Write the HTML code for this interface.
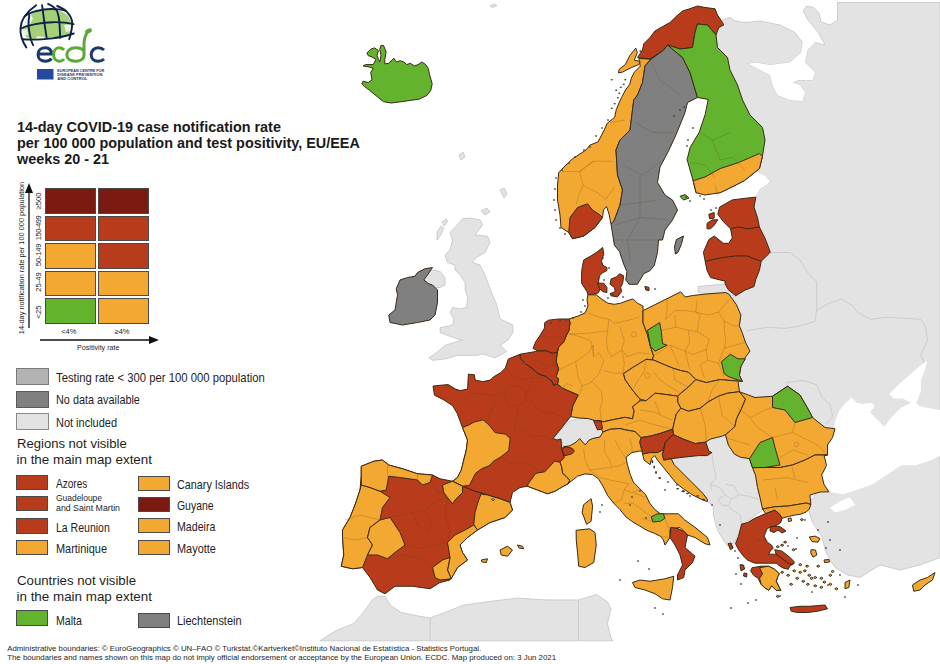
<!DOCTYPE html>
<html><head><meta charset="utf-8">
<style>
html,body{margin:0;padding:0;background:#fff;}
body{width:940px;height:664px;position:relative;overflow:hidden;font-family:"Liberation Sans",sans-serif;color:#1e1e1e;}
svg{position:absolute;left:0;top:0;}
.t{position:absolute;white-space:nowrap;line-height:1;transform-origin:0 50%;}
.b{position:absolute;box-sizing:border-box;border:1px solid #4a4a4a;}
.title{font-weight:bold;font-size:14.4px;color:#1a1a1a;}
.lg{font-size:12.2px;}
.hd{font-size:13.4px;}
</style></head><body>
<svg width="940" height="664" viewBox="0 0 940 664">
<g fill="#e3e3e3" stroke="#c4c4c4" stroke-width="0.8" stroke-linejoin="round">
<path d="M722.5,20 L730,17.5 L735,21 L745,22.5 L760,21 L780,25 L795,32.5 L802.5,42.5 L801.25,52.5 L790,62.5 L770,65 L755,62.5 L748.75,63.75 L760,70 L770,75 L772.5,85 L777.5,95 L790,100 L802.5,101 L805,92.5 L800,85 L792.5,82.5 L797.5,80 L812.5,80 L815,72.5 L805,62.5 L807.5,50 L815,42.5 L825,45 L818,32 L808,20 L803,11 L806,6.5 L813,7 L819,13 L821,22 L830,25 L837.5,20 L837.5,2.5 L940,2.5 L940,557.5 L920,565 L900,570 L880,565 L860,577.5 L847.5,575 L835,567.5 L830,560 L825,550 L822.5,537.5 L817.5,530 L812.5,522.5 L810,515 L807.5,506 L820,487.5 L825,480 L827.5,455 L790,440 L742.5,395 L740,392.5 L735,380 L735,325 L728,300 L735.9,295.7 L714.2,295.7 L698,292.1 L698,286.6 L725.1,283.9 L725.1,281.2 L740,260 L756,196 L760,189 L767.5,184 L770,180 L762,176 L757.5,170 L740,150 L720,100 L705,50Z"/>
<path d="M462.5,218.75 L470,218 L480,220 L482.5,225 L478,231 L475,235 L487.5,236.25 L490,242.5 L485,252.5 L476.25,257.5 L472.5,262.5 L480,265 L485,275 L489,286 L493,296 L496.5,304 L498.5,312 L500,319 L505.4,321.4 L512.9,325.1 L512.9,332.7 L507.9,340.2 L500.3,345.2 L506.6,351.5 L495.3,357.8 L482.8,354 L476.5,355.3 L457.7,355.3 L445.1,359 L432.6,360.3 L428.8,357.8 L436.3,352.8 L445.1,345.2 L453.9,342.7 L462.7,340.2 L457.7,339 L450.1,336.4 L440.1,332.7 L440.1,327.7 L452.6,325.1 L453.9,318.9 L450.1,312.6 L452.6,307.6 L460.2,308.8 L466.4,307.6 L467.7,297.5 L465.2,290 L465,282.5 L460,275 L455,270 L455,265 L447.5,262.5 L445,255 L450,250 L452.5,240 L450,232.5 L455,227.5Z"/>
<path d="M437,232 L441,226 L444,228 L440,236 L437,240Z"/>
<path d="M442,222 L446,219 L448,221 L444,226Z"/>
<path d="M481,211 L487,208 L490,212 L485,215Z"/>
<path d="M500,190 L504,188 L507,194 L504,198Z"/>
<path d="M459,155 L463,152 L465,157 L461,160Z"/>
<path d="M425,275 L432.5,270 L440,271.25 L445,277.5 L445,285 L440,287.5 L435,287.5 L428.75,283.75 L423.75,280Z"/>
<path d="M553,438.5 L560,430 L570,421.25 L579.4,418 L588.4,418.6 L594.8,420.5 L597.5,422 L600,427.5 L603,432 L600,437 L592.4,438.6 L588.8,440.4 L585.2,444.9 L579.7,438.6 L576.1,442.2 L569.8,445.8 L563.5,446.7 L561,439 L557,440Z"/>
<path d="M671.2,458.7 L683.2,457.2 L698.3,455.6 L707.3,455.6 L711.8,452.6 L708.8,451.1 L705.8,442.1 L710.3,439.1 L716.3,437.6 L722.4,436.1 L725.4,434.6 L728.4,445.1 L734.4,454.1 L740.4,457.2 L749.5,458.7 L752.5,467.7 L755.5,475.2 L757.5,487.5 L760,497.5 L762.5,510 L742.5,525 L737.5,535 L735,542.5 L730,545 L727.5,546 L722,538 L717.5,530 L713.3,515 L713.3,505.3 L707.3,501.6 L707.3,499.3 L702.8,493.3 L695.3,485.8 L687.7,478.2 L680.2,470.7 L674.2,464.7Z"/>
<path d="M319.9,640.8 L336.2,630.6 L354.2,623.4 L363.3,612.5 L372.3,599.9 L377.8,596.3 L385,596.3 L390.4,605.3 L401.3,612.5 L419.3,616.2 L430.2,618 L444.7,612.5 L462.7,605.3 L488.1,601.7 L517,598.1 L545.9,599.9 L578.5,599.9 L596.6,594.5 L607.4,601.7 L611,608.9 L607.4,623.4 L611,637.9 L612.8,640.8Z"/>
<path d="M490,6 L494,4 L497,5.5 L493,7.5Z"/>
</g>
<g fill="none" stroke="#c2c2c2" stroke-width="0.7">
<path d="M746.8,330.7 L767.1,327.3 L785.2,328.4 L798.8,326.2 L814.6,321.6 L816.8,310.3 L828.1,303.6 L841.7,299 L853,305.8 L857.5,312.6 L871.1,319.4 L886.9,317.1 L902.7,318.2 L920.8,319.4 L925.3,326.2 L927.5,339.7 L920.8,355.5 L925.3,364.6 L927.6,360"/>
<path d="M760,252.5 L772.5,252.5 L790,252.5 L800,260 L807.5,272.5 L816.8,282 L816.8,299 L816.8,310.3"/>
<path d="M785.2,382.7 L803.3,380.4 L816.8,384.9 L821.4,396.2 L830.4,405.3 L832.7,416.6 L826,424"/>
<path d="M711.8,452.6 L713.3,464.7 L716.3,478.2 L710.3,484.2 L711.8,490.3"/>
<path d="M710.3,484.2 L719.4,487.3 L725.4,494.8 L717.8,499.3"/>
<path d="M725.4,484.2 L734.4,485.8 L738.9,494.8 L731.4,499.3 L725.4,494.8"/>
<path d="M717.8,499.3 L722.4,505.3 L728.4,505.3 L731.4,499.3"/>
<path d="M738.9,494.8 L749.5,496.3 L758.5,499.3"/>
<path d="M728.4,506.8 L732.5,510 L740,515 L741.6,524.1"/>
<path d="M430.2,618 L430,640.8"/>
<path d="M578.5,599.9 L578.5,640.8"/>
</g>
<g fill="#fff" stroke="none">
<path d="M748.75,63.75 L755,62.5 L770,65 L790,62.5 L801.25,52.5 L802.5,42.5 L808,45 L815,42.5 L807.5,50 L805,62.5 L815,72.5 L812.5,80 L797.5,80 L792.5,82.5 L800,85 L805,92.5 L802.5,101 L790,100 L777.5,95 L772.5,85 L770,75 L760,70Z"/>
<path d="M834.9,421.9 L839.8,409.9 L845.8,402.7 L851.8,397.8 L856.6,402.7 L862.7,403.9 L872.3,402.7 L874.7,406.3 L869.9,412.3 L877.1,419.5 L884.3,426.7 L891.6,417.1 L901.2,407.5 L910.8,402.7 L915.7,405.1 L925.3,407.5 L940,409.9 L940,455.7 L930.1,460.5 L915.7,465.3 L901.2,465.3 L886.7,474.9 L872.3,484.6 L857.8,489.4 L843.4,494.2 L828.9,491.8 L824.1,484.6 L821.7,474.9 L826.5,465.3 L824.1,455.7 L826.5,446 L833.7,434Z"/>
<path d="M889.2,394 L898.2,384.9 L916.3,369.1 L927.6,360 L925.3,369.1 L920.8,380.4 L920.8,391.7 L916.3,403 L911.8,403 L902.7,398.5 L893.7,398.5Z"/>
<path d="M911.8,403 L916.3,403 L920.8,407.5 L915,406Z"/>
<path d="M830,507.5 L842.5,500 L850,497.5 L855,505 L845,510 L835,512.5Z"/>
<path d="M745,180 L757.5,172 L765,176 L770,181 L767.5,184 L760,189 L756,196 L740,199 L720,205Z"/>
</g>
<g stroke="#3a2a14" stroke-width="1" stroke-linejoin="round">
<path fill="#64b32f" d="M366.9,53 L370.7,49.2 L374.6,47.9 L378.4,50.5 L377.1,55.6 L378.4,59.4 L379.7,62 L381,55.6 L379.7,49.2 L381,45.4 L383.5,45.4 L386.1,51.8 L384.8,59.4 L384.8,63.9 L388.7,63.3 L393.8,58.2 L396.3,62 L400.2,60.7 L404,62 L406.6,64.6 L410.4,63.3 L414.3,65.9 L418.1,64.6 L421.9,62 L425.8,64.6 L428.3,68.4 L429.6,74.8 L432.2,83.8 L430.9,90.2 L427.1,95.3 L419.4,99.1 L410.4,100.4 L401.5,101.7 L391.2,103 L383.5,101.7 L377.1,96.6 L369.4,90.2 L364.3,86.3 L361.8,83.8 L363,81.2 L368.2,82.5 L372,79.9 L370.7,72.3 L373.3,68.4 L369.4,67.1 L363,65.9 L365.6,64.6 L373.3,64.6 L375.9,59.4 L372,56.9 L368.2,55.6Z"/>
<path fill="#808080" d="M417.5,272.5 L425,268.75 L432.5,267.5 L427.5,275 L423.75,280 L428.75,283.75 L432.5,285 L437.5,290 L437.5,302.5 L435,315 L430,320 L417.5,322.5 L402.5,325 L390,322.5 L388.75,315 L395,310 L397.5,295 L396.25,288.75 L400,280 L407.5,277.5 L415,276.25Z"/>
<path fill="#f3a832" d="M638.8,58.6 L640.3,66.1 L634.3,72.2 L631.3,78.2 L629.8,84.2 L625.3,90.2 L622.3,96.2 L619.3,102.3 L616.2,109.8 L614.7,117.3 L607.2,123.3 L604.2,130 L598,142 L590,145 L586,150 L572.5,158.75 L565,166 L558.75,172.5 L557.5,185 L557.5,200 L560,215 L561,227.5 L568.75,232.5 L572.5,238.75 L583.75,236 L595,227.5 L602.5,217.5 L603.5,210 L606.5,206.5 L609,214 L611,224 L614,221 L620,205 L622.5,190 L617.5,175 L616,150 L620,140 L630,130 L633.75,100 L637.5,95 L642.5,82.5 L645,66 L650,60 L663.75,50 L650,59Z"/>
<path fill="#f3a832" d="M619.3,69.1 L625.3,64.6 L629.8,55.6 L635.8,48.1 L637.3,52.6 L634.3,60.1 L640.3,61.6 L638.8,64.6 L631.3,67.6 L622.3,72.2 L618.5,72.9Z"/>
<path fill="#b83c1b" d="M637.5,57.5 L642.5,50 L643.75,43.75 L650,37.5 L655,31 L661,27.5 L670,22.5 L675,17.5 L682.5,11 L689,9 L697.5,6 L705,7.5 L715,8.75 L717.5,15 L722.5,22.5 L723.75,25 L718.75,27.5 L716,35 L707.5,25 L697.5,24 L695,32.5 L692.5,47.5 L680,49 L667.5,45 L663.75,50 L650,59Z"/>
<path fill="#b83c1b" d="M568.75,232.5 L570,217.5 L577.5,207.5 L587.5,203.75 L592.5,210 L600,215 L602.5,217.5 L595,227.5 L583.75,236 L572.5,238.75Z"/>
<path fill="#808080" d="M663.75,50 L667.5,45 L682.5,57.5 L690,72.5 L697.5,97.5 L687.5,102.5 L685,112.5 L680,125 L675,137 L668,152 L660,167 L657.5,182.5 L665,195 L672.5,200 L677.5,210 L672.5,220 L665,230 L662.5,240 L658.5,240 L657.5,252.6 L654.3,265.3 L650.1,270.6 L643.8,273.7 L637.4,284.3 L629,284.3 L625.8,280 L626.9,271.6 L623.7,264.2 L619.5,251.6 L614.3,245 L612.6,234 L611,224 L614,221 L620,205 L622.5,190 L617.5,175 L616,150 L620,140 L630,130 L633.75,100 L637.5,95 L642.5,82.5 L645,66 L650,60Z"/>
<path fill="#808080" d="M676.3,239.6 L683.5,236 L681.7,243.3 L678.1,252.3 L675.4,254.1 L674.5,246.9Z"/>
<path fill="#64b32f" d="M697.5,24 L707.5,25 L716,35 L717.5,47.5 L727.5,57.5 L730,70 L737.5,85 L742.5,100 L750,115 L762.5,127.5 L765,140 L762.4,156.6 L759.4,168.6 L744.3,180.7 L720.2,192.7 L696.1,192.7 L693.1,180.7 L687.1,159.6 L690.1,147.5 L699.1,132.5 L705.2,114.4 L708.2,99.4 L697.5,97.5 L690,72.5 L682.5,57.5 L667.5,45 L680,49 L692.5,47.5 L695,32.5Z"/>
<path fill="#f3a832" d="M693.1,180.7 L705,177 L720.2,168.6 L738.3,162.6 L759.4,153.6 L762.4,156.6 L759.4,168.6 L744.3,180.7 L730,188 L720.2,192.7 L705,195 L696.1,192.7Z"/>
<path fill="#64b32f" d="M679.9,196.3 L685.3,194.5 L688.9,198.1 L683.5,199.9Z"/>
<path fill="#b83c1b" d="M719.6,207.1 L732.3,199.9 L746.8,198.1 L755.8,197.2 L754,207.1 L757.6,218 L759.4,227 L764.8,237.8 L768.4,246.9 L770.2,252.3 L761.2,261.3 L759.4,270.4 L755.8,279.4 L754,286.6 L744.9,290.2 L735.9,295.7 L728.7,290.2 L725.1,283.9 L725.1,281.2 L710.6,277.6 L707,270.4 L705.2,261.3 L703.4,252.3 L708.8,239.6 L714.2,236 L723.3,243.3 L728.7,243.3 L732.3,237.8 L730.5,228.8 L723.3,221.6 L717.8,214.3Z"/>
<path fill="#b83c1b" d="M707,223.4 L712.4,219.8 L717.8,219.8 L714.2,225.2 L710.6,228.8 L707,228.8Z"/>
<path fill="#b83c1b" d="M708.8,214.3 L714.2,212.5 L714.2,218 L709.7,218.9Z"/>
<path fill="#b83c1b" d="M602.7,247.4 L603.7,253.7 L601.6,261.1 L602.7,265.3 L606.9,267.4 L606.9,270.6 L602.7,272.7 L599.5,275.8 L598.5,282.1 L600.6,287.4 L598.5,292.7 L596.3,293.7 L587.9,294.8 L586.9,291.6 L581.6,283.2 L581.6,271.6 L582.6,265.3 L583.7,260 L591.1,255.8 L596.3,252.6Z"/>
<path fill="#b83c1b" d="M597.4,283.2 L603.7,283.2 L606.9,287.4 L606.9,292.7 L602.7,291.6 L599.5,288.5Z"/>
<path fill="#b83c1b" d="M611.1,279 L616.4,276.9 L619.5,273.7 L623.7,275.8 L622.7,283.2 L620.6,287.4 L621.6,291.6 L617.4,296.9 L611.1,295.8 L610,293.7 L615.3,291.6 L614.3,287.4 L610,284.3Z"/>
<path fill="#b83c1b" d="M644.8,286.4 L649,287.4 L649,290.6 L645.9,290Z"/>
<path fill="#f3a832" d="M587.9,294.8 L596.3,294.8 L601.6,299 L607.9,303.2 L614.3,304.3 L620.6,303.2 L629,300.1 L633.2,299 L637.4,303.2 L643,306 L643,310.6 L643,322.6 L647.5,334.7 L650.5,346.7 L653.6,355.8 L652,360.3 L647,359.3 L632.6,367.6 L623.5,373.6 L625.1,379.6 L632.6,390.2 L640.1,399.2 L640.1,400.7 L632.6,406.7 L634.1,411.2 L632.6,418.8 L625.1,417.3 L610,420.3 L603.8,421.8 L598.7,420.5 L594.8,420.5 L588.4,418.6 L579.4,418 L570.5,416.7 L573,405.2 L578.2,395 L562.8,388.5 L557.4,384.2 L558.6,379.1 L556.1,376.5 L558.6,368.9 L556.1,361.2 L557.4,352.2 L558.6,347.1 L563.7,342 L566.3,335.6 L568.9,330.5 L570.1,322.8 L568.9,319 L578,316 L585,313 L588,306 L587,300Z"/>
<path fill="#f3a832" d="M643,310.6 L655.1,304.6 L667.1,298.6 L680.7,291.8 L685.2,297 L692.7,295.5 L706.2,294 L725.8,292.5 L728.8,294 L736.4,304.6 L740.9,315.1 L739.4,325.7 L742.4,333.2 L745.4,342.2 L749.9,351.2 L745.4,357.3 L740.9,366.3 L739.4,375.3 L742.4,381.4 L738,381.1 L719.9,379.6 L706.3,382.6 L695.8,379.6 L688.3,372.1 L680.8,370.6 L673.2,368.3 L664.2,364.6 L653.7,360.1 L647,359.3 L652,360.3 L653.6,355.8 L650.5,346.7 L647.5,334.7 L643,322.6Z"/>
<path fill="#64b32f" d="M647.5,330.2 L659.6,322.6 L661.1,330.2 L662.6,343.7 L667.1,345.2 L655.1,351.2 L650.5,346.7Z"/>
<path fill="#64b32f" d="M721.3,361.8 L730.3,354.3 L737.9,358.8 L745.4,358.8 L740.9,366.3 L739.4,375.3 L742.4,381.4 L728.8,376.8 L724.3,373.8Z"/>
<path fill="#f3a832" d="M623.5,373.6 L632.6,367.6 L646.1,359.3 L653.7,360.1 L664.2,364.6 L673.2,368.3 L680.8,370.6 L688.3,372.1 L695.8,379.6 L688.3,387.2 L680.8,393.2 L677.7,396.2 L667.2,394.7 L655.2,393.2 L646.1,400.7 L640.1,399.2 L632.6,390.2 L625.1,379.6Z"/>
<path fill="#f3a832" d="M695.8,379.6 L706.3,382.6 L719.9,379.6 L738,381.1 L739.5,391.7 L727.4,393.2 L718.4,396.2 L707.8,402.2 L700.3,408.2 L688.3,411.2 L680.8,408.2 L677.7,402.2 L677.7,396.2 L680.8,393.2 L688.3,387.2Z"/>
<path fill="#f3a832" d="M610,420.3 L625.1,417.3 L632.6,418.8 L634.1,411.2 L632.6,406.7 L640.1,400.7 L646.1,400.7 L655.2,393.2 L667.2,394.7 L677.7,396.2 L677.7,402.2 L680.8,408.2 L676.2,414.2 L674.7,420.3 L672.7,429.3 L659.1,433.8 L650.1,436.1 L641.1,437.6 L635,431.6 L626,430 L620,428.5 L610,429.3 L603,432 L600,427.5 L598.7,420.5 L603.8,421.8Z"/>
<path fill="#b83c1b" d="M593.5,420.5 L601.25,421.25 L602.5,428.75 L597.5,430Z"/>
<path fill="#f3a832" d="M688.3,411.2 L700.3,408.2 L707.8,402.2 L718.4,396.2 L727.4,393.2 L739.5,391.7 L745.5,399.2 L741,409.7 L736.5,418.8 L735,426.3 L728.9,432 L725.4,434.6 L722.4,436.1 L716.3,437.6 L710.3,439.1 L705.8,442.1 L695.3,443.6 L683.2,439.1 L673.4,434.6 L672.7,429.3 L674.7,420.3 L676.2,414.2 L680.8,408.2Z"/>
<path fill="#b83c1b" d="M641.1,437.6 L650.1,436.1 L659.1,433.8 L672.7,429.3 L673.4,434.6 L665.2,442.1 L663.7,449.6 L657.6,452.6 L650.1,452.6 L642.6,454.1 L641.1,448.1 L639.6,442.1Z"/>
<path fill="#b83c1b" d="M673.4,434.6 L683.2,439.1 L695.3,443.6 L705.8,442.1 L708.8,451.1 L711.8,452.6 L707.3,455.6 L698.3,455.6 L683.2,457.2 L671.2,458.7 L663.7,460.2 L662.2,454.1 L663.7,449.6 L665.2,442.1Z"/>
<path fill="#f3a832" d="M642.6,454.1 L650.1,452.6 L657.6,452.6 L663.7,449.6 L662.2,454.1 L663.7,460.2 L671.2,458.7 L674.2,464.7 L680.2,470.7 L687.7,478.2 L695.3,485.8 L702.8,493.3 L707.3,499.3 L707.3,501.6 L701.3,499.3 L692.3,494.8 L683.2,488.8 L675.7,482.7 L669.7,475.2 L663.7,467.7 L657.6,460.2 L654.6,455.6 L651.6,458.7 L650.1,464.7 L644.1,460.2Z"/>
<path fill="#f3a832" d="M739.5,391.7 L755,397.5 L772.5,396.25 L787.5,386.25 L800,395 L810,412.5 L812.5,417.5 L825,427.5 L835,428.75 L832.5,437.5 L827.5,445 L827.5,455 L815,455 L805,460 L792.5,465 L780,467.5 L765,467.5 L752.5,467.7 L749.5,458.7 L740.4,457.2 L734.4,454.1 L728.4,445.1 L725.4,434.6 L728.9,432 L735,426.3 L736.5,418.8 L741,409.7 L745.5,399.2Z"/>
<path fill="#64b32f" d="M772.5,396.25 L787.5,386.25 L800,395 L810,412.5 L812.5,417.5 L795,422.5 L785,410 L772.5,407.5Z"/>
<path fill="#64b32f" d="M749.5,458.7 L760,442.5 L772.5,437.5 L775,447.5 L780,465 L765,467.5 L752.5,467.7Z"/>
<path fill="#f3a832" d="M752.5,467.7 L765,467.5 L780,467.5 L792.5,465 L805,460 L815,455 L827.5,455 L824.1,455.7 L826.5,465.3 L821.7,474.9 L824.1,484.6 L828.9,491.8 L820,492 L810,495 L810.8,504.5 L806.3,503 L797.3,504.5 L788.2,506 L774.7,506.8 L762.6,509 L760,497.5 L757.5,487.5 L755.5,475.2Z"/>
<path fill="#b83c1b" d="M741.6,524.1 L747.6,522.6 L755.1,518.1 L765.6,513.6 L774.7,510 L779.2,513.6 L782.2,518.1 L780.7,522.6 L776.2,525.6 L770.2,527.1 L767.2,528.6 L764.1,536.1 L767.2,542.2 L771.7,545.2 L773.2,548.2 L770.2,551.2 L768.7,554.2 L774.7,554.2 L782.2,555.7 L789.7,560.2 L794.3,563.2 L789.7,566.2 L788.2,569.3 L782.2,567.7 L776.2,563.2 L768.7,563.2 L761.1,563.2 L755.1,563.2 L747.6,560.2 L743.1,555.7 L738.6,549.7 L735.5,543.7 L738.6,536.1 L740.1,530.1Z"/>
<path fill="#b83c1b" d="M770.2,527.1 L776.2,526 L780.7,527 L786,531 L782,533 L778,530 L774,532.5 L770,531Z"/>
<path fill="#f3a832" d="M762.6,509 L774.7,506.8 L788.2,506 L797.3,504.5 L806.3,503 L810.8,504.5 L809.3,509 L806.3,512 L800.3,514.3 L794.3,515.1 L788.2,516.6 L782.2,518.1 L779.2,513.6 L774.7,510 L765.6,513.6Z"/>
<path fill="#b83c1b" d="M774.7,549.7 L782.2,551.2 L789.7,557.2 L794.3,561.7 L792.7,564.7 L788.2,563.2 L782.2,558.7 L776.2,554.2Z"/>
<path fill="#b83c1b" d="M752.1,567.7 L761.1,566.2 L768.7,566.2 L774.7,569.3 L779.2,573.8 L777.7,576.8 L776.2,581.3 L780.7,590.3 L776.2,590.3 L771.7,585.8 L768.7,590.3 L764.1,587.3 L761.1,584.3 L758.1,578.3 L753.6,575.3 L750.6,570.8Z"/>
<path fill="#f3a832" d="M759.6,567.7 L768.7,566.2 L774.7,569.3 L779.2,573.8 L777.7,576.8 L776.2,581.3 L780.7,590.3 L776.2,590.3 L771.7,585.8 L768.7,590.3 L764.1,587.3 L761.1,584.3 L759.6,578.3 L762.6,573.8Z"/>
<path fill="#b83c1b" d="M728,543.7 L731,543 L733,548 L730.5,549.7Z"/>
<path fill="#b83c1b" d="M740,564.7 L743.5,565 L744.6,569 L741,570.8Z"/>
<path fill="#b83c1b" d="M744,573 L747,573.5 L746.5,577 L743.5,576Z"/>
<path fill="#b83c1b" d="M790,607.5 L800,606.25 L810,606.25 L825,605 L827.5,608.75 L817.5,611.25 L807.5,612.5 L797.5,612.5 L791.25,611.25Z"/>
<path fill="#f3a832" d="M788,518.5 L791,518 L791.5,521 L788.5,521.5Z"/>
<path fill="#f3a832" d="M809.3,537 L815,536.1 L819.9,538.5 L818,542.2 L812,541.5Z"/>
<path fill="#f3a832" d="M811,549.7 L815.5,550 L816.8,555 L813,557.2 L810.8,553Z"/>
<path fill="#f3a832" d="M824,560 L829,559.5 L829.5,562 L824.5,562.5Z"/>
<path fill="#f3a832" d="M845,582.5 L850,580 L848.75,587.5 L845,588.75Z"/>
<path fill="#f3a832" d="M912.5,585 L920,580 L927.5,577.5 L935,572.5 L932.5,580 L925,585 L920,590 L913.75,591.25Z"/>
<path fill="#f3a832" d="M792.7,570.8 L794.3,569.7 L795.9,570.8 L794.3,571.9Z"/>
<path fill="#f3a832" d="M798.7,572.3 L800.3,571.2 L801.9,572.3 L800.3,573.4Z"/>
<path fill="#f3a832" d="M803.2,570.8 L804.8,569.7 L806.4,570.8 L804.8,571.9Z"/>
<path fill="#f3a832" d="M807.7,575.3 L809.3,574.2 L810.9,575.3 L809.3,576.4Z"/>
<path fill="#f3a832" d="M810.0,578.3 L811.6,577.2 L813.2,578.3 L811.6,579.4Z"/>
<path fill="#f3a832" d="M813.7,577.5 L815.3,576.4 L816.9,577.5 L815.3,578.6Z"/>
<path fill="#f3a832" d="M795.7,578.3 L797.3,577.2 L798.9,578.3 L797.3,579.4Z"/>
<path fill="#f3a832" d="M801.7,581.3 L803.3,580.2 L804.9,581.3 L803.3,582.4Z"/>
<path fill="#f3a832" d="M806.2,584.3 L807.8,583.2 L809.4,584.3 L807.8,585.4Z"/>
<path fill="#f3a832" d="M813.7,585.8 L815.3,584.7 L816.9,585.8 L815.3,586.9Z"/>
<path fill="#f3a832" d="M819.8,578.3 L821.4,577.2 L823.0,578.3 L821.4,579.4Z"/>
<path fill="#f3a832" d="M822.8,582.1 L824.4,581.0 L826.0,582.1 L824.4,583.2Z"/>
<path fill="#f3a832" d="M828.8,575.3 L830.4,574.2 L832.0,575.3 L830.4,576.4Z"/>
<path fill="#f3a832" d="M831.0,571.5 L832.6,570.4 L834.2,571.5 L832.6,572.6Z"/>
<path fill="#f3a832" d="M816.7,566.2 L818.3,565.1 L819.9,566.2 L818.3,567.3Z"/>
<path fill="#f3a832" d="M805.5,566.2 L807.1,565.1 L808.7,566.2 L807.1,567.3Z"/>
<path fill="#f3a832" d="M798.7,564.7 L800.3,563.6 L801.9,564.7 L800.3,565.8Z"/>
<path fill="#f3a832" d="M791.9,549.7 L793.5,548.6 L795.1,549.7 L793.5,550.8Z"/>
<path fill="#f3a832" d="M800.2,519.6 L801.8,518.5 L803.4,519.6 L801.8,520.7Z"/>
<path fill="#f3a832" d="M780.6,545.2 L782.2,544.1 L783.8,545.2 L782.2,546.3Z"/>
<path fill="#f3a832" d="M783.6,542.2 L785.2,541.1 L786.8,542.2 L785.2,543.3Z"/>
<path fill="#f3a832" d="M776.1,546.7 L777.7,545.6 L779.3,546.7 L777.7,547.8Z"/>
<path fill="#f3a832" d="M819.8,587.3 L821.4,586.2 L823.0,587.3 L821.4,588.4Z"/>
<path fill="#f3a832" d="M828.8,584.3 L830.4,583.2 L832.0,584.3 L830.4,585.4Z"/>
<path fill="#f3a832" d="M834.8,588.8 L836.4,587.7 L838.0,588.8 L836.4,589.9Z"/>
<path fill="#f3a832" d="M780.6,572.3 L782.2,571.2 L783.8,572.3 L782.2,573.4Z"/>
<path fill="#f3a832" d="M786.6,575.3 L788.2,574.2 L789.8,575.3 L788.2,576.4Z"/>
<path fill="#f3a832" d="M789.6,584.3 L791.2,583.2 L792.8,584.3 L791.2,585.4Z"/>
<path fill="#f3a832" d="M776.1,596.4 L777.7,595.3 L779.3,596.4 L777.7,597.5Z"/>
<path fill="#b83c1b" d="M544.6,322.8 L548.4,320.2 L558.6,319 L568.9,319 L570.1,322.8 L568.9,330.5 L566.3,335.6 L563.7,342 L558.6,347.1 L557.4,352.2 L552.2,353.5 L547.1,351 L538.2,351 L533,348.4 L535.6,342 L540.7,334.3 L544.6,327.9Z"/>
<path fill="#b83c1b" d="M520.2,354.2 L531.8,352.2 L538.2,351 L547.1,351 L552.2,353.5 L557.4,352.2 L556.1,361.2 L558.6,368.9 L556.1,376.5 L558.6,379.1 L557.4,384.2 L553.5,385.5 L552.2,381.7 L545.8,376.5 L538.2,374 L534.3,370.1 L525.4,363.7 L520.2,358.6Z"/>
<path fill="#b83c1b" d="M520.2,354.2 L520.2,358.6 L525.4,363.7 L534.3,370.1 L538.2,374 L545.8,376.5 L552.2,381.7 L553.5,385.5 L557.4,384.2 L562.8,388.5 L578.2,395 L573,405.2 L570.5,416.7 L560,430 L553,438.5 L557,440 L561,439 L561.7,448.6 L564.4,457.6 L559.9,462.1 L561.7,466.6 L562.6,472.9 L567.1,477.5 L569.8,480.2 L568,483.8 L562.5,486.7 L555,491.2 L547.5,493.75 L537.5,490 L527.5,486.25 L520,487.5 L512.5,492.5 L510,502.5 L500,498.75 L487.5,495 L475,491.25 L462.5,486.25 L452.5,481.25 L457.5,477.5 L461.25,470 L463.75,460 L466.25,450 L467.5,440 L462.5,427.5 L457.1,413.2 L452.6,405.7 L443.5,399.7 L434.5,395.2 L433,386.1 L439,385.4 L448.1,384.6 L455.6,389.1 L460.1,390.6 L467.6,389.1 L468.4,374.1 L474.4,374.8 L475.2,380.1 L482.7,381.6 L490.2,380.1 L493.2,377.1 L500.8,372.6 L505.3,368.1 L508.3,359Z"/>
<path fill="#f3a832" d="M474,422.1 L483.1,419.8 L489.1,425.1 L495.1,432.6 L505.6,434.1 L510.2,438.7 L508.7,450.7 L501.1,456.7 L493.6,461.2 L489.1,465.8 L481.6,468.8 L475.5,473.3 L472.5,479.3 L469.5,485.3 L462.5,486.25 L452.5,481.25 L457.5,477.5 L461.25,470 L463.75,460 L466.25,450 L467.5,440 L462.5,427.5 L468.75,425Z"/>
<path fill="#f3a832" d="M527.5,486.25 L528.2,483.8 L535.8,473.3 L544.8,471.8 L547.2,469.3 L554.5,461.2 L559.9,462.1 L561.7,466.6 L562.6,472.9 L567.1,477.5 L569.8,480.2 L568,483.8 L562.5,486.7 L555,491.2 L547.5,493.75 L537.5,490Z"/>
<path fill="#f3a832" d="M583.6,504.7 L591.1,498.7 L592.6,506.2 L591.1,521.3 L586.6,524.3 L582.1,512.3Z"/>
<path fill="#f3a832" d="M568,483.8 L569.8,480.2 L567.1,477.5 L562.6,472.9 L561.7,466.6 L559.9,462.1 L564.4,457.6 L561.7,448.6 L563.5,446.7 L569.8,445.8 L576.1,442.2 L579.7,438.6 L585.2,444.9 L588.8,440.4 L592.4,438.6 L600,437 L603,432 L610,429.3 L620,428.5 L626,430 L635,431.6 L641.1,437.6 L639.6,442.1 L641.1,448.1 L642.6,451 L639.6,451.1 L632,452.6 L626,457.2 L627.3,464.1 L630.3,474.6 L633.3,482.1 L639.3,488.2 L645.3,494.2 L649.8,503.2 L654.4,509.2 L660.4,513.8 L669.4,513.8 L678.4,513.8 L684.5,519.8 L695,527.3 L707.5,537.5 L710,545 L705,543.75 L695,537.5 L687.5,535 L680,527.5 L670,528.75 L670,537.5 L665,545 L663.4,540 L660.4,536.3 L654.4,533.3 L646.8,530.3 L639.3,525.8 L631.8,521.3 L625.8,516.8 L619.7,509.2 L613.7,503.2 L607.7,495.7 L603.2,486.7 L598.7,479.1 L592.6,474.6 L585.1,473.9 L577.6,476.1Z"/>
<path fill="#b83c1b" d="M561.7,448.6 L567.1,446.7 L572.5,448.6 L574.3,451.3 L571.6,454 L564.4,455.8Z"/>
<path fill="#64b32f" d="M651.3,516.8 L657.4,513.8 L663.4,513.8 L664.9,518.3 L660.4,521.3 L652.8,522Z"/>
<path fill="#b83c1b" d="M670.9,527.3 L678.4,528.8 L684.5,531.8 L687.5,535 L685,547.5 L695,556.25 L692.5,562.5 L685,570 L683.75,577.5 L677.5,580 L677.5,575 L682.5,565 L680,555 L675,545 L670,537.5Z"/>
<path fill="#f3a832" d="M632.5,582.5 L640,580 L650,581.25 L665,578.75 L673.75,576.25 L672.5,587.5 L670,600 L662.5,598.75 L655,593.75 L645,590 L635,587.5Z"/>
<path fill="#f3a832" d="M576.1,530.3 L589.6,528.8 L595,532.5 L596.25,545 L593.75,562.5 L585,567.5 L578.75,566.25 L577.5,552.5 L576.25,540Z"/>
<path fill="#b83c1b" d="M361.25,466.25 L373.75,461.25 L382.5,460 L388.75,465 L402.5,468.75 L417.5,473.75 L432.5,475 L440,478.75 L452.5,481.25 L462.5,486.25 L475,491.25 L487.5,495 L500,498.75 L510,502.5 L512.5,510 L505,517.5 L490,522.5 L477.5,530 L467.5,537.5 L460,545 L462.5,552.5 L467.5,560 L457.5,567.5 L450,580 L440,582.5 L430,588.75 L412.5,586.25 L395,586.25 L385,593.75 L377.5,590 L370,577.5 L362.5,567.5 L352.5,568.75 L341.25,566.25 L343.75,555 L342.5,537.5 L342.5,530 L350,517.5 L355,505 L360,490 L361.25,475Z"/>
<path fill="#f3a832" d="M361.25,485 L370,487.5 L380,491.25 L390,497.5 L382.5,507.5 L380,520 L370,527.5 L367.5,537.5 L372.5,545 L367.5,555 L362.5,567.5 L352.5,568.75 L341.25,566.25 L343.75,555 L342.5,537.5 L342.5,530 L350,517.5 L355,505 L360,490Z"/>
<path fill="#f3a832" d="M361.25,466.25 L373.75,461.25 L382.5,460 L388.75,465 L402.5,468.75 L417.5,473.75 L432.5,475 L430,482.5 L422.5,485 L417.5,480 L400,477.5 L388.75,476.25 L386.25,490 L380,491.25 L370,487.5 L361.25,485 L361.25,475Z"/>
<path fill="#f3a832" d="M442.5,485 L452.5,481.25 L462.5,486.25 L462.5,492.5 L455,500 L452.5,503.75 L447.5,497.5 L443.75,492.5Z"/>
<path fill="#f3a832" d="M481,494 L487.5,495 L500,498.75 L510,502.5 L512.5,510 L505,517.5 L490,522.5 L477.5,530 L473.75,525 L475,512.5 L478,502Z"/>
<path fill="#ffffff" d="M491.5,499.2 L493,498.6 L494.5,499.6 L493,500.8Z"/>
<path fill="#f3a832" d="M477.5,530 L467.5,537.5 L460,545 L462.5,552.5 L467.5,560 L457.5,567.5 L451.25,578.75 L447.5,570 L450,557.5 L447.5,542.5 L455,535 L465,530 L473.75,525Z"/>
<path fill="#f3a832" d="M432.5,567.5 L442.5,560 L450,557.5 L447.5,570 L451.25,578.75 L440,580 L435,577.5Z"/>
<path fill="#f3a832" d="M370,527.5 L380,520 L390,517.5 L400,532.5 L405,545 L395,552.5 L387.5,558.75 L377.5,555 L367.5,555 L372.5,545 L367.5,537.5Z"/>
<path fill="#f3a832" d="M500,550 L507.5,546.25 L512.5,550 L507.5,556.25 L501.25,555Z"/>
<path fill="#f3a832" d="M517.5,545 L522.5,546.25 L523.75,548.75 L519,548Z"/>
<path fill="#f3a832" d="M481.25,560 L487.5,558.75 L486.25,562.5 L482,562Z"/>
</g>
<g fill="none" stroke="#5a3a14" stroke-opacity="0.38" stroke-width="0.6" stroke-linejoin="round">
<path d="M667.1,298.6 L667.1,309.1 L665.6,319.6"/>
<path d="M665.6,319.6 L674.6,310.6 L685.2,310.6 L695.7,312.1 L700.2,315.1"/>
<path d="M697.2,300.1 L695.7,312.1 L707.7,315.1 L718.3,312.1 L728.8,300.1"/>
<path d="M718.3,312.1 L724.3,321.1 L733.3,325.7 L739.4,325.7"/>
<path d="M674.6,315.1 L676.1,327.2 L688.2,330.2 L697.2,331.7 L698.7,321.1 L700.2,315.1"/>
<path d="M724.3,321.1 L724.3,330.2 L725.8,342.2 L724.3,348.2"/>
<path d="M688.2,330.2 L689.7,342.2 L685.2,351.2 L692.7,354.3 L706.2,349.7 L709.3,339.2 L700.2,333.2 L697.2,331.7"/>
<path d="M653.6,355.8 L670.1,345.2 L685.2,351.2"/>
<path d="M670.1,345.2 L674.6,355.8 L679.1,366.3"/>
<path d="M685.2,351.2 L689.7,369.3"/>
<path d="M706.2,349.7 L707.7,360.3 L718.3,363.3 L724.3,348.2 L745.4,342.2"/>
<path d="M700.2,364.8 L707.7,360.3"/>
<path d="M700.2,364.8 L704.7,378.3"/>
<path d="M718.3,363.3 L724.3,376.8"/>
<path d="M661.1,330.2 L676.1,327.2"/>
<path d="M588.4,313 L598.7,316.9 L608.9,319.4 L614,323.3 L621.7,322 L632,319.4 L639.6,316.9"/>
<path d="M569.2,333.5 L582,337.4 L591,341.2 L592.3,348.9 L593.5,356.6"/>
<path d="M608.9,319.4 L607.6,331 L606.3,341.2 L607.6,350.2 L611.5,356.6"/>
<path d="M620.4,327.1 L624.3,341.2 L621.7,348.9 L626.8,356.6 L639.6,352.7 L649.9,354"/>
<path d="M557.7,370.6 L575.6,361.6 L588.4,352.7 L593.5,345 L593.5,356.6"/>
<path d="M575.6,361.6 L578.2,377 L582,386 L579.4,395"/>
<path d="M591,382.1 L598.7,374.4 L603.8,360.4 L598.7,352.7 L593.5,356.6"/>
<path d="M592.3,382.1 L601.2,391.1 L602.5,400.1 L599.9,409 L601.2,419.3"/>
<path d="M603.8,370.6 L614,373.2 L623,373.2"/>
<path d="M611.5,356.6 L621.7,350.1 L624.3,362.9 L623,373.2"/>
<path d="M562.8,388.5 L566.6,383.4 L573,386"/>
<path d="M582,386 L592.3,382.1"/>
<path d="M469.1,393.7 L479.7,393.7 L493.2,395.2 L503.8,392.2"/>
<path d="M493.2,395.2 L494.7,404.2 L490.2,413.2 L487.2,422.3"/>
<path d="M505.3,368.1 L514.3,377.1 L523.3,380.1 L532.4,377.1 L544.4,378.6"/>
<path d="M526.3,395.2 L535.4,407.2 L544.4,413.2 L554.9,413.2 L565.5,419.2"/>
<path d="M517.3,407.2 L517.7,410.1 L516.2,422.1 L514.7,429.6 L510.2,438.7"/>
<path d="M526.3,395.2 L529.4,386.1 L532.4,377.1"/>
<path d="M516.2,429.6 L525.2,431.1 L534.3,437.2 L543.3,435.7 L552.3,440.2"/>
<path d="M501.1,456.7 L510.2,462.8 L522.2,462.8 L531.2,465.8 L540.3,470.3 L547.2,469.3"/>
<path d="M463.1,399.7 L469.1,393.7"/>
<path d="M504,396 L506,389 L513,385.5 L521,387 L526,393 L525,401 L518,406 L509,405 L504,396"/>
<path d="M390,517.5 L412.5,512.5 L425,510 L437.5,500 L447.5,497.5"/>
<path d="M412.5,512.5 L417.5,525 L427.5,532.5 L432.5,522.5 L425,510"/>
<path d="M387.5,557.5 L405,555 L425,560 L432.5,567.5"/>
<path d="M447.5,497.5 L445,512.5 L450,532.5 L447.5,542.5"/>
<path d="M432.5,482.5 L437.5,492.5 L445,492.5"/>
<path d="M387.5,465 L387.5,477.5"/>
<path d="M417.5,473.75 L417.5,480"/>
<path d="M405,545 L420,548 L432,546 L447.5,542.5"/>
<path d="M345,520 L360,515 L380,520"/>
<path d="M342.5,537.5 L355,540 L367.5,537.5"/>
<path d="M583.6,449 L585.1,459.6 L589.6,470.1"/>
<path d="M589.6,470.1 L600.2,468.6 L612.2,467.1 L619.7,465.6 L625.8,462.6"/>
<path d="M604.7,440 L604.7,452 L609.2,459.6 L612.2,467.1"/>
<path d="M589.6,470.1 L600.2,477.6 L612.2,480.6 L621.2,482.1 L628.8,483.7"/>
<path d="M612.2,503.2 L621.2,500.2 L624.2,489.7 L628.8,483.7"/>
<path d="M624.2,489.7 L631.8,492.7 L639.3,489.7"/>
<path d="M624.2,503.2 L633.3,503.2 L639.3,507.7 L645.3,512.3 L651.3,516.8"/>
<path d="M633.3,492.7 L645.3,497.2"/>
<path d="M642.3,518.3 L651.3,521.3"/>
<path d="M664.9,518.3 L667.9,527.3 L670.9,527.3"/>
<path d="M615.2,440 L619.7,449 L625.8,458.1"/>
<path d="M630,438 L632,447 L632,452.6"/>
<path d="M660.4,536.3 L670,537.5"/>
<path d="M635,122.5 L652.5,132.5 L675,132.5"/>
<path d="M622.5,165 L642.5,175 L660,162.5"/>
<path d="M620,205 L640,202.5 L657.5,200"/>
<path d="M615,225 L640,217.5 L670,220"/>
<path d="M612.5,240 L627.5,240 L660,240"/>
<path d="M640,175 L640,202.5 L640,217.5 L627.5,240 L630,260"/>
<path d="M650,60 L660,80 L680,95"/>
<path d="M562.3,171.6 L579.7,171.6 L593.5,161.2 L612.6,161.2"/>
<path d="M593.5,161.2 L579.7,171.6 L583.1,185.5 L579.7,192.4 L576.2,204.5"/>
<path d="M583.1,185.5 L597,192.4 L605.7,199.3 L614.3,187.2"/>
<path d="M610,122.5 L625,120"/>
<path d="M700,132.5 L712.5,140 L730,132.5"/>
<path d="M712.5,140 L720,160 L732.5,157.5 L745,170"/>
<path d="M690,162.5 L705,165 L715,177.5"/>
<path d="M715,185 L718,196"/>
<path d="M730,185 L733,190"/>
<path d="M737.5,407.5 L750,417.5 L765,410 L772.5,407.5"/>
<path d="M750,417.5 L757.5,427.5 L772.5,437.5"/>
<path d="M772.5,437.5 L792.5,432.5 L795,422.5"/>
<path d="M792.5,432.5 L817.5,445 L827.5,455"/>
<path d="M780,457.5 L792.5,450 L807.5,455"/>
<path d="M725,437.5 L750,445"/>
<path d="M794,444 L797,442 L799,445 L796,447 L794,444"/>
<path d="M762.5,480 L787.5,477.5 L807.5,482.5"/>
<path d="M775,487.5 L777.5,500"/>
<path d="M792,467 L795,478"/>
<path d="M646.1,359.3 L644,372 L638,380 L632.6,390.2"/>
<path d="M653.7,372 L660,380 L667,385 L680.8,393.2"/>
<path d="M673.2,368.3 L675,380 L688.3,387.2"/>
<path d="M655,401 L660,415 L672,420"/>
<path d="M640,410 L655,412 L660,415"/>
<path d="M625,425 L640,420 L655,425 L672.7,429.3"/>
<path d="M700.3,408.2 L705,425 L706.3,441.3"/>
<path d="M718.4,396.2 L722,415 L735,426.3"/>
<path d="M707.8,402.2 L712,390 L719.9,379.6"/>
<path d="M755,540 L768,540"/>
<path d="M745,545 L752,556"/>
<path d="M540,337 L562,337"/>
<path d="M552.2,353.5 L553,362 L556,368"/>
<path d="M534,360 L548,366 L557,365"/>
<path d="M631,334.3 L633.5,331.5 L636.5,333 L636,336.5 L632.5,337 L631,334.3"/>
<path d="M644.5,375 L647,372.5 L650,374 L649.5,377.5 L646,378 L644.5,375"/>
<path d="M568.8,334.3 L590,333 L608,330.9"/>
</g>
<g fill="none" stroke="#3a2a14" stroke-width="1" stroke-linejoin="round">
<path d="M730.5,228.8 L737.7,227 L748.6,228.8 L759.4,227"/>
<path d="M705.2,261.3 L721.4,257.7 L735.9,255.9 L746.8,255.9 L761.2,261.3"/>
</g>
<g fill="#3a3a3a">
<ellipse cx="611.7" cy="79.7" rx="1.1" ry="0.8"/>
<ellipse cx="616.2" cy="90.2" rx="1.1" ry="0.8"/>
<ellipse cx="619.3" cy="93.2" rx="1.1" ry="0.8"/>
<ellipse cx="617.8" cy="97.7" rx="1.1" ry="0.8"/>
<ellipse cx="614.7" cy="103.8" rx="1.1" ry="0.8"/>
<ellipse cx="611.7" cy="108.3" rx="1.1" ry="0.8"/>
<ellipse cx="625.3" cy="79.7" rx="1.1" ry="0.8"/>
<ellipse cx="623.8" cy="84.2" rx="1.1" ry="0.8"/>
<ellipse cx="620.8" cy="87.2" rx="1.1" ry="0.8"/>
<ellipse cx="640.3" cy="51.1" rx="1.1" ry="0.8"/>
<ellipse cx="608.0" cy="120.0" rx="1.1" ry="0.8"/>
<ellipse cx="602.0" cy="128.0" rx="1.1" ry="0.8"/>
<ellipse cx="596.0" cy="136.0" rx="1.1" ry="0.8"/>
<ellipse cx="590.0" cy="147.0" rx="1.1" ry="0.8"/>
<ellipse cx="584.0" cy="150.0" rx="1.1" ry="0.8"/>
<ellipse cx="575.0" cy="157.0" rx="1.1" ry="0.8"/>
<ellipse cx="569.0" cy="163.0" rx="1.1" ry="0.8"/>
<ellipse cx="562.0" cy="170.0" rx="1.1" ry="0.8"/>
<ellipse cx="556.0" cy="178.0" rx="1.1" ry="0.8"/>
<ellipse cx="555.0" cy="189.0" rx="1.1" ry="0.8"/>
<ellipse cx="554.0" cy="200.0" rx="1.1" ry="0.8"/>
<ellipse cx="555.0" cy="210.0" rx="1.1" ry="0.8"/>
<ellipse cx="556.0" cy="220.0" rx="1.1" ry="0.8"/>
<ellipse cx="560.0" cy="228.0" rx="1.1" ry="0.8"/>
<ellipse cx="565.0" cy="234.0" rx="1.1" ry="0.8"/>
<ellipse cx="603.0" cy="258.0" rx="1.1" ry="0.8"/>
<ellipse cx="609.0" cy="268.0" rx="1.1" ry="0.8"/>
<ellipse cx="604.0" cy="280.0" rx="1.1" ry="0.8"/>
<ellipse cx="608.0" cy="298.0" rx="1.1" ry="0.8"/>
<ellipse cx="583.0" cy="300.0" rx="1.1" ry="0.8"/>
<ellipse cx="585.0" cy="306.0" rx="1.1" ry="0.8"/>
<ellipse cx="581.0" cy="312.0" rx="1.1" ry="0.8"/>
<ellipse cx="573.0" cy="318.0" rx="1.1" ry="0.8"/>
<ellipse cx="566.0" cy="320.0" rx="1.1" ry="0.8"/>
<ellipse cx="560.0" cy="321.0" rx="1.1" ry="0.8"/>
<ellipse cx="551.0" cy="323.0" rx="1.1" ry="0.8"/>
<ellipse cx="676.0" cy="253.0" rx="1.1" ry="0.8"/>
<ellipse cx="690.0" cy="201.0" rx="1.1" ry="0.8"/>
<ellipse cx="686.0" cy="197.0" rx="1.1" ry="0.8"/>
<ellipse cx="700.0" cy="196.0" rx="1.1" ry="0.8"/>
<ellipse cx="704.0" cy="199.0" rx="1.1" ry="0.8"/>
<ellipse cx="674.0" cy="116.0" rx="1.1" ry="0.8"/>
<ellipse cx="680.0" cy="110.0" rx="1.1" ry="0.8"/>
<ellipse cx="684.0" cy="107.0" rx="1.1" ry="0.8"/>
<ellipse cx="687.0" cy="146.0" rx="1.1" ry="0.8"/>
<ellipse cx="688.0" cy="140.0" rx="1.1" ry="0.8"/>
<ellipse cx="693.0" cy="128.0" rx="1.1" ry="0.8"/>
<ellipse cx="613.0" cy="295.0" rx="1.1" ry="0.8"/>
<ellipse cx="623.0" cy="297.0" rx="1.1" ry="0.8"/>
<ellipse cx="655.0" cy="289.0" rx="1.1" ry="0.8"/>
<ellipse cx="711.0" cy="210.0" rx="1.1" ry="0.8"/>
<ellipse cx="716.0" cy="208.0" rx="1.1" ry="0.8"/>
<ellipse cx="640.0" cy="491.0" rx="1.1" ry="0.8"/>
<ellipse cx="632.0" cy="497.0" rx="1.1" ry="0.8"/>
<ellipse cx="630.0" cy="505.0" rx="1.1" ry="0.8"/>
<ellipse cx="602.0" cy="505.0" rx="1.1" ry="0.8"/>
<ellipse cx="600.0" cy="512.0" rx="1.1" ry="0.8"/>
<ellipse cx="646.0" cy="518.0" rx="1.1" ry="0.8"/>
<ellipse cx="665.0" cy="490.0" rx="1.1" ry="0.8"/>
<ellipse cx="677.0" cy="485.0" rx="1.1" ry="0.8"/>
<ellipse cx="683.0" cy="491.0" rx="1.1" ry="0.8"/>
<ellipse cx="690.0" cy="496.0" rx="1.1" ry="0.8"/>
<ellipse cx="712.0" cy="505.0" rx="1.1" ry="0.8"/>
<ellipse cx="720.0" cy="525.0" rx="1.1" ry="0.8"/>
<ellipse cx="649.0" cy="569.0" rx="1.1" ry="0.8"/>
<ellipse cx="638.0" cy="561.0" rx="1.1" ry="0.8"/>
<ellipse cx="620.0" cy="580.0" rx="1.1" ry="0.8"/>
<ellipse cx="655.0" cy="608.0" rx="1.1" ry="0.8"/>
<ellipse cx="663.0" cy="614.0" rx="1.1" ry="0.8"/>
<ellipse cx="735.0" cy="551.0" rx="1.1" ry="0.8"/>
<ellipse cx="738.0" cy="558.0" rx="1.1" ry="0.8"/>
<ellipse cx="731.0" cy="608.0" rx="1.1" ry="0.8"/>
<ellipse cx="748.0" cy="603.0" rx="1.1" ry="0.8"/>
<ellipse cx="780.0" cy="596.0" rx="1.1" ry="0.8"/>
<ellipse cx="812.0" cy="592.0" rx="1.1" ry="0.8"/>
<ellipse cx="845.0" cy="597.0" rx="1.1" ry="0.8"/>
<ellipse cx="858.0" cy="585.0" rx="1.1" ry="0.8"/>
<ellipse cx="840.0" cy="575.0" rx="1.1" ry="0.8"/>
<ellipse cx="828.0" cy="585.0" rx="1.1" ry="0.8"/>
<ellipse cx="840.0" cy="550.0" rx="1.1" ry="0.8"/>
<ellipse cx="826.0" cy="548.0" rx="1.1" ry="0.8"/>
<ellipse cx="830.0" cy="540.0" rx="1.1" ry="0.8"/>
<ellipse cx="828.0" cy="522.0" rx="1.1" ry="0.8"/>
<ellipse cx="818.0" cy="530.0" rx="1.1" ry="0.8"/>
<ellipse cx="805.0" cy="520.0" rx="1.1" ry="0.8"/>
<ellipse cx="797.0" cy="538.0" rx="1.1" ry="0.8"/>
<ellipse cx="788.0" cy="546.0" rx="1.1" ry="0.8"/>
<ellipse cx="796.0" cy="549.0" rx="1.1" ry="0.8"/>
<ellipse cx="736.0" cy="574.0" rx="1.1" ry="0.8"/>
<ellipse cx="741.0" cy="584.0" rx="1.1" ry="0.8"/>
<ellipse cx="756.0" cy="600.0" rx="1.1" ry="0.8"/>
<ellipse cx="652.4" cy="461.7" rx="0.9" ry="1.6"/>
<ellipse cx="654.2" cy="467.1" rx="0.9" ry="1.5"/>
<ellipse cx="656.0" cy="472.5" rx="0.9" ry="1.4"/>
<ellipse cx="659.7" cy="478.0" rx="1.4" ry="0.9"/>
<ellipse cx="677.7" cy="488.8" rx="1.6" ry="0.8"/>
<ellipse cx="683.2" cy="491.4" rx="1.8" ry="0.8"/>
<ellipse cx="687.5" cy="493.5" rx="1.6" ry="0.8"/>
<ellipse cx="697.6" cy="496.0" rx="1.6" ry="0.8"/>
<ellipse cx="703.0" cy="499.6" rx="1.8" ry="0.8"/>
<ellipse cx="668.0" cy="482.0" rx="1.2" ry="0.8"/>
</g>
</svg>
<!-- logo -->
<svg width="120" height="90" viewBox="0 0 120 90" style="left:0;top:0">
 <path d="M25,22 C27,15 35,11 45,10 C55,9 64,11 68,16 C72,21 72,29 70,34 C66,38 55,39 45,39 C35,40 27,39 24,35 C22,31 23,26 25,22Z" fill="#a6cf78"/>
 <path d="M23,18 L31,14 33,19 30,24 24,26Z M22,30 L27,29 28,35 23,36Z M64,25 L71,24 71,31 66,32Z M37,36 L45,37 44,40 36,40Z" fill="#fff" opacity="0.75"/>
 <g fill="none" stroke="#0f2449" stroke-width="1.9" stroke-linecap="round">
  <path d="M24.8,16.2 C30,12 42,9 51,9 C57,9 61,9.3 65,10.5"/>
  <path d="M21,28.6 C28,25 42,22.5 52.6,22.2 C62,22 69,23 73.7,24.1"/>
  <path d="M22.5,39.2 C30,40 42,39.5 52.6,38.4 C62,37 68,35.5 73.7,33.5"/>
  <path d="M36.1,5.3 C28,11 21,19 20.5,28 C20,35 22,41 26.3,47.4"/>
  <path d="M29.3,15.1 C28.5,20 28.4,24 28.6,26.4 C29,30 29.5,33 30.1,36.1 C31,40 32,43 33.1,45.2"/>
  <path d="M42.1,5.3 C43,12 43.8,18 44.4,22.6 C45,28 46,33 46.6,37.7"/>
  <path d="M48.1,3.8 C53,6 56,9 57.2,11.3 C58.5,15 59.2,19 59.4,22.6 C59.8,28 60,33 60.2,37.7"/>
  <path d="M57.2,6 C62,8 66,10.5 67.7,12.8 C70.5,16 72,19.5 72.2,22.6 C72.3,27 71.5,31 70.7,33.9 C70.2,36 69.7,38 69.2,39.2"/>
 </g>
 <g fill="none" stroke-width="3" stroke-linecap="butt">
  <path stroke="#1b3a66" d="M38.6,54 L51.5,54 C51.5,50 49,47.8 45,47.8 C40.5,47.8 38,51 38,54.6 C38,58.5 41,61.3 45.3,61.3 C48.3,61.3 50.3,60 51.5,58.6"/>
  <path stroke="#5aaa35" d="M64,50 C62.8,48.5 61.2,47.8 59.2,47.8 C55.6,47.8 53.6,51 53.6,54.6 C53.6,58.4 56,61.3 59.4,61.3 C61.4,61.3 63,60.4 64,59"/>
  <path stroke="#5aaa35" d="M84,51 C82.5,48.8 79.5,47.8 75.5,47.8 C70,47.8 66.8,51 66.8,54.6 C66.8,58.4 70,61.3 75.5,61.3 C80.5,61.3 84,59 84,55 L84,45 C84,40 85,36 87,33"/>
  <path stroke="#1b3a66" d="M104,50 C102.6,48.5 100.6,47.8 98,47.8 C93.8,47.8 91.2,51 91.2,54.6 C91.2,58.4 94,61.3 97.8,61.3 C100.6,61.3 102.6,60.4 104,59"/>
 </g>
 <ellipse cx="88.5" cy="31" rx="3.6" ry="2.2" transform="rotate(-25 88.5 31)" fill="#5aaa35"/>
 <rect x="37" y="69" width="16.5" height="10.5" fill="#234a9e"/>
 <g fill="#1b3a66" font-size="3.1" font-weight="bold" font-family="Liberation Sans">
 <text x="57.3" y="72.4" textLength="47" lengthAdjust="spacingAndGlyphs">EUROPEAN CENTRE FOR</text>
 <text x="57.3" y="76.2" textLength="45" lengthAdjust="spacingAndGlyphs">DISEASE PREVENTION</text>
 <text x="57.3" y="80" textLength="30" lengthAdjust="spacingAndGlyphs">AND CONTROL</text>
 </g>
</svg>
<div class="t title" id="t1" style="left:17px;top:120.3px;">14-day COVID-19 case notification rate</div>
<div class="t title" id="t2" style="left:17px;top:135.8px;">per 100 000 population and test positivity, EU/EEA</div>
<div class="t title" id="t3" style="left:17px;top:152.3px;">weeks 20 - 21</div>

<!-- grid -->
<div class="b" style="left:45px;top:188px;width:51px;height:25.5px;background:#7b1a12"></div>
<div class="b" style="left:98px;top:188px;width:51px;height:25.5px;background:#7b1a12"></div>
<div class="b" style="left:45px;top:215.5px;width:51px;height:25.5px;background:#b83c1b"></div>
<div class="b" style="left:98px;top:215.5px;width:51px;height:25.5px;background:#b83c1b"></div>
<div class="b" style="left:45px;top:243px;width:51px;height:25.5px;background:#f3a832"></div>
<div class="b" style="left:98px;top:243px;width:51px;height:25.5px;background:#b83c1b"></div>
<div class="b" style="left:45px;top:270.5px;width:51px;height:25.5px;background:#f3a832"></div>
<div class="b" style="left:98px;top:270.5px;width:51px;height:25.5px;background:#f3a832"></div>
<div class="b" style="left:45px;top:298px;width:51px;height:25.5px;background:#64b32f"></div>
<div class="b" style="left:98px;top:298px;width:51px;height:25.5px;background:#f3a832"></div>
<svg width="170" height="360" viewBox="0 0 170 360" style="left:0;top:0">
 <line x1="29" y1="192" x2="29" y2="328" stroke="#111" stroke-width="1.3"/>
 <path d="M25,193 L29,183 L33,193Z" fill="#111"/>
 <line x1="40" y1="340" x2="150" y2="340" stroke="#111" stroke-width="1.3"/>
 <path d="M149,336 L159,340 L149,344Z" fill="#111"/>
</svg>
<div class="t" style="left:21.5px;top:258.4px;font-size:7.4px;transform:translate(-50%,-50%) rotate(-90deg);transform-origin:50% 50%;" id="yax">14-day notification rate per 100 000 population</div>
<div class="t" style="left:39.2px;top:201.1px;font-size:7.6px;transform:translate(-50%,-50%) rotate(-90deg);transform-origin:50% 50%;">≥500</div>
<div class="t" style="left:39.2px;top:228.1px;font-size:7.6px;transform:translate(-50%,-50%) rotate(-90deg);transform-origin:50% 50%;letter-spacing:-0.5px;">150-499</div>
<div class="t" style="left:39.2px;top:255.2px;font-size:7.6px;transform:translate(-50%,-50%) rotate(-90deg);transform-origin:50% 50%;letter-spacing:-0.2px;">50-149</div>
<div class="t" style="left:39.2px;top:282px;font-size:7.6px;transform:translate(-50%,-50%) rotate(-90deg);transform-origin:50% 50%;">25-49</div>
<div class="t" style="left:39.2px;top:311.8px;font-size:7.6px;transform:translate(-50%,-50%) rotate(-90deg);transform-origin:50% 50%;">&lt;25</div>
<div class="t" style="left:68.75px;top:332px;font-size:7.5px;transform:translate(-50%,-50%);">&lt;4%</div>
<div class="t" style="left:122px;top:332px;font-size:7.5px;transform:translate(-50%,-50%);">≥4%</div>
<div class="t" style="left:98.25px;top:349px;font-size:7.15px;transform:translate(-50%,-50%);">Positivity rate</div>

<!-- legend -->
<div class="b" style="left:16px;top:368px;width:33px;height:16.5px;background:#b3b3b3;border-color:#7a7a7a"></div>
<div class="t lg" style="left:56px;top:372.3px;transform:scaleX(0.927);transform-origin:0 0;" id="l1">Testing rate &lt; 300 per 100 000 population</div>
<div class="b" style="left:16px;top:391px;width:33px;height:16.5px;background:#808080;border-color:#5a5a5a"></div>
<div class="t lg" style="left:56px;top:394.3px;transform:scaleX(0.891);transform-origin:0 0;">No data available</div>
<div class="b" style="left:16px;top:413px;width:33px;height:17px;background:#e3e3e3;border-color:#8a8a8a"></div>
<div class="t lg" style="left:56px;top:416.9px;transform:scaleX(0.900);transform-origin:0 0;">Not included</div>
<div class="t hd" style="left:16.5px;top:437.3px;transform:scaleX(0.976);transform-origin:0 0;" id="h1">Regions not visible</div>
<div class="t hd" style="left:16.5px;top:453px;">in the main map extent</div>

<div class="b" style="left:16px;top:474.6px;width:32px;height:15.2px;background:#b83c1b"></div>
<div class="t lg" style="left:56px;top:477.8px;transform:scaleX(0.825);transform-origin:0 0;">Azores</div>
<div class="b" style="left:16px;top:496.2px;width:32px;height:15.2px;background:#b83c1b"></div>
<div class="t" style="left:56px;top:494.1px;font-size:9.3px;transform:scaleX(0.907);transform-origin:0 0;">Guadeloupe</div>
<div class="t" style="left:56px;top:504px;font-size:9.3px;transform:scaleX(0.945);transform-origin:0 0;">and Saint Martin</div>
<div class="b" style="left:16px;top:518.4px;width:32px;height:15.2px;background:#b83c1b"></div>
<div class="t lg" style="left:56px;top:522.3px;transform:scaleX(0.863);transform-origin:0 0;">La Reunion</div>
<div class="b" style="left:16px;top:540px;width:32px;height:15.3px;background:#f3a832"></div>
<div class="t lg" style="left:56px;top:543.4px;transform:scaleX(0.896);transform-origin:0 0;">Martinique</div>

<div class="b" style="left:138.2px;top:475.7px;width:32px;height:15px;background:#f3a832"></div>
<div class="t lg" style="left:177.4px;top:479.0px;transform:scaleX(0.887);transform-origin:0 0;">Canary Islands</div>
<div class="b" style="left:138.2px;top:496.5px;width:32px;height:15px;background:#7b1a12"></div>
<div class="t lg" style="left:177.4px;top:500.0px;transform:scaleX(0.857);transform-origin:0 0;">Guyane</div>
<div class="b" style="left:138.2px;top:518.2px;width:32px;height:15.3px;background:#f3a832"></div>
<div class="t lg" style="left:177.4px;top:521.3px;transform:scaleX(0.871);transform-origin:0 0;">Madeira</div>
<div class="b" style="left:138.2px;top:540px;width:32px;height:15.3px;background:#f3a832"></div>
<div class="t lg" style="left:177.4px;top:542.5px;transform:scaleX(0.896);transform-origin:0 0;">Mayotte</div>

<div class="t hd" style="left:16.5px;top:574.2px;transform:scaleX(0.987);transform-origin:0 0;">Countries not visible</div>
<div class="t hd" style="left:16.5px;top:590.1px;">in the main map extent</div>
<div class="b" style="left:15.8px;top:610.4px;width:32.2px;height:16px;background:#64b32f"></div>
<div class="t lg" style="left:55.5px;top:614.6px;transform:scaleX(0.870);transform-origin:0 0;">Malta</div>
<div class="b" style="left:138.2px;top:613px;width:32px;height:15.2px;background:#808080"></div>
<div class="t lg" style="left:177.4px;top:615.2px;transform:scaleX(0.898);transform-origin:0 0;">Liechtenstein</div>

<div class="t" style="left:7.2px;top:644.7px;font-size:7.85px;" id="f1">Administrative boundaries: © EuroGeographics © UN–FAO © Turkstat.©Kartverket©Instituto Nacional de Estatística - Statistics Portugal.</div>
<div class="t" style="left:7.2px;top:654px;font-size:7.85px;" id="f2">The boundaries and names shown on this map do not imply official endorsement or acceptance by the European Union. ECDC. Map produced on: 3 Jun 2021</div>
</body></html>
